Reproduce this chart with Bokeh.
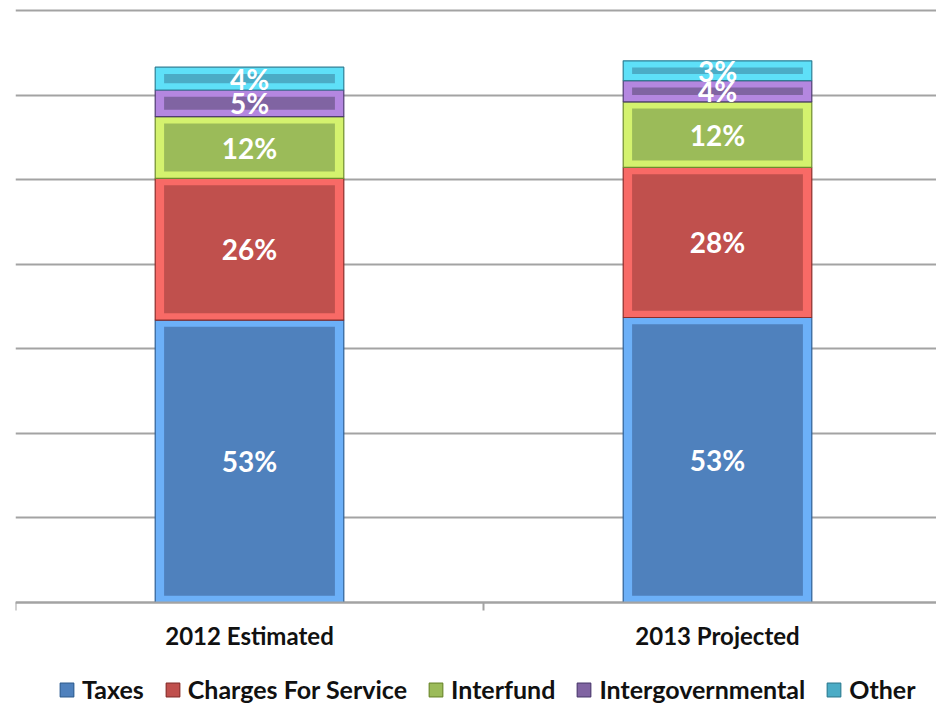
from bokeh.plotting import figure
from bokeh.models import (Range1d, FixedTicker, Legend, LegendItem, ColumnDataSource)
from bokeh.core.properties import value
from bokeh.embed import file_html
from bokeh.resources import INLINE

# ---- data ----
categories = ["2012 Estimated", "2013 Projected"]
series = ["Taxes", "Charges For Service", "Interfund", "Intergovernmental", "Other"]
taxes = [33.4, 33.7]
charges = [16.75, 17.75]
interfund = [7.3, 7.75]
intergov = [3.15, 2.5]
other = [2.7, 2.35]
taxes_lbl = ["53%", "53%"]
charges_lbl = ["26%", "28%"]
interfund_lbl = ["12%", "12%"]
intergov_lbl = ["5%", "4%"]
other_lbl = ["4%", "3%"]
y_ticks = [0, 10, 20, 30, 40, 50, 60, 70]

values = [taxes, charges, interfund, intergov, other]
labels = [taxes_lbl, charges_lbl, interfund_lbl, intergov_lbl, other_lbl]

main_colors = ["#4F81BD", "#C0504D", "#9BBB59", "#8064A2", "#4BACC6"]
bevel_colors = ["#6CB0F8", "#F86A66", "#D4F26E", "#B487E0", "#5EE0F8"]
edge_colors = ["#2F5F94", "#8B2E2B", "#6E8B2E", "#4F3C72", "#2E7F95"]

FONT = "Lato"
GRID = "#A3A3A3"

p = figure(width=936, height=704, output_backend="svg", toolbar_location=None,
           x_range=Range1d(0, 921 / 468), y_range=Range1d(-12.06, 70.355),
           min_border_left=15, min_border_right=0, min_border_top=7, min_border_bottom=0)
p.outline_line_color = None
p.background_fill_color = "white"
p.border_fill_color = "white"

xs = [0.5 + i for i in range(len(categories))]
outer_w = 0.403
inner_w = 0.365
inset = 0.8

bottoms = [0.0] * len(categories)
legend_items = []
for k, name in enumerate(series):
    vals = values[k]
    tops = [b + v for b, v in zip(bottoms, vals)]
    src = ColumnDataSource(dict(
        x=xs, bottom=list(bottoms), top=tops,
        ib=[b + inset for b in bottoms], it=[t - inset for t in tops],
        mid=[(b + t) / 2 for b, t in zip(bottoms, tops)],
        lbl=labels[k]))
    p.vbar(x="x", bottom="bottom", top="top", width=outer_w, source=src,
           fill_color=bevel_colors[k], line_color=None)
    inner = p.vbar(x="x", bottom="ib", top="it", width=inner_w, source=src,
                   fill_color=main_colors[k], line_color=None)
    edge = p.vbar(x="x", bottom="bottom", top="top", width=outer_w, source=src,
                  fill_color=None, line_color=edge_colors[k], line_width=1.2)
    p.text(x="x", y="mid", text="lbl", source=src, text_color="white",
           text_font=value(FONT), text_font_style="bold", text_font_size="28px",
           text_align="center", text_baseline="middle")
    legend_items.append(LegendItem(label=name, renderers=[inner, edge]))
    bottoms = tops

# y axis hidden, grid kept
p.yaxis.visible = False
p.yaxis.ticker = FixedTicker(ticks=y_ticks)
p.ygrid.grid_line_color = GRID
p.ygrid.grid_line_width = 2
p.xgrid.visible = False

# x axis, fixed at zero
xa = p.xaxis[0]
xa.fixed_location = 0
xa.ticker = FixedTicker(ticks=xs, minor_ticks=[0, 1, 2])
xa.major_label_overrides = {x: c for x, c in zip(xs, categories)}
xa.major_tick_line_color = None
xa.major_tick_out = 0
xa.major_tick_in = 0
xa.minor_tick_line_color = GRID
xa.minor_tick_line_width = 2
xa.minor_tick_out = 8
xa.minor_tick_in = 0
xa.axis_line_color = GRID
xa.axis_line_width = 2
xa.major_label_text_font = FONT
xa.major_label_text_font_style = "bold"
xa.major_label_text_font_size = "24px"
xa.major_label_text_color = "#111111"
xa.major_label_standoff = 10

legend = Legend(items=legend_items, orientation="horizontal", location=(43, 0),
                glyph_width=17, glyph_height=17, label_standoff=7, spacing=20,
                padding=0, margin=0, border_line_color=None, background_fill_alpha=0,
                label_text_font=FONT, label_text_font_style="bold",
                label_text_font_size="25px", label_text_color="#111111")
p.add_layout(legend, "center")

open("out.html", "w").write(file_html(p, INLINE))
